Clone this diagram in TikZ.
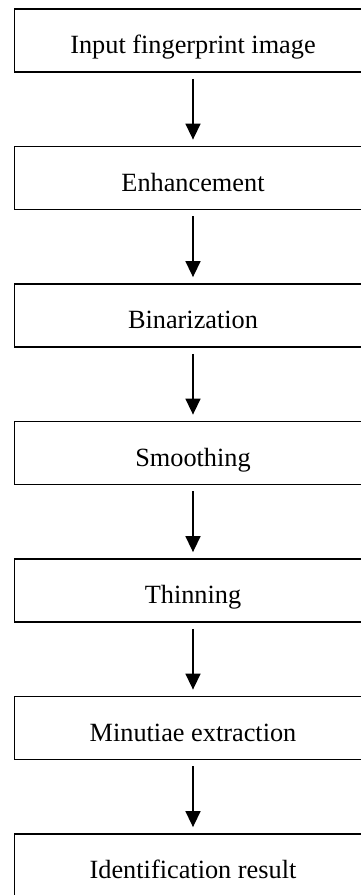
\documentclass[tikz,border=0pt]{standalone}
\usepackage{fontspec}
\setmainfont{Liberation Serif}
\usetikzlibrary{arrows.meta}
\begin{document}
\begin{tikzpicture}[x=1pt,y=-1pt,
  stepbox/.style={draw=black, line width=1.8pt, rectangle, minimum width=357pt, minimum height=63pt,
    inner sep=0pt, text height=28pt, text depth=2pt, font=\fontsize{26.3}{30}\selectfont},
  flow/.style={line width=1.5pt, -{Triangle[width=15pt,length=16pt]}, shorten <=6pt, shorten >=6pt}]
\useasboundingbox (0,0) rectangle (361,895);
\clip (0,0) rectangle (361,895);
\node[stepbox] (b1) at (193,40.5) {Input fingerprint image};
\node[stepbox] (b2) at (193,178) {Enhancement};
\node[stepbox] (b3) at (193,315.5) {Binarization};
\node[stepbox] (b4) at (193,453) {Smoothing};
\node[stepbox] (b5) at (193,590.5) {Thinning};
\node[stepbox] (b6) at (193,728) {Minutiae extraction};
\node[stepbox] (b7) at (193,865.5) {Identification result};
\draw[flow] (b1.south) -- (b2.north);
\draw[flow] (b2.south) -- (b3.north);
\draw[flow] (b3.south) -- (b4.north);
\draw[flow] (b4.south) -- (b5.north);
\draw[flow] (b5.south) -- (b6.north);
\draw[flow] (b6.south) -- (b7.north);
\end{tikzpicture}
\end{document}
